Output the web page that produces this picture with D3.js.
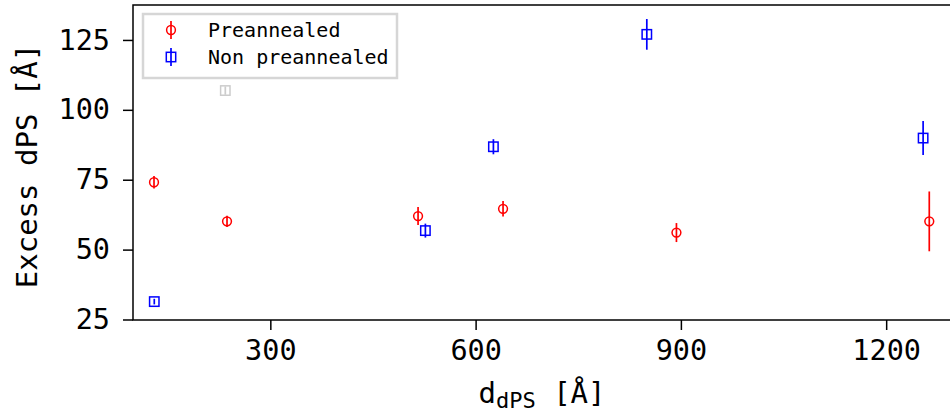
<!DOCTYPE html>
<html>
<head>
<meta charset="utf-8">
<title>Excess dPS</title>
<script src="https://d3js.org/d3.v7.min.js"></script>
<style>
  body { margin: 0; background: #fff; }
  svg text { font-family: "DejaVu Sans Mono", monospace; fill: #000; }
</style>
</head>
<body>
<div id="chart"></div>
<script>
// preannealed samples
var preX   = [130, 236.7, 515.9, 640.1, 893.5, 1263];
var preY   = [74.1, 60.1, 62.0, 64.6, 56.1, 60.1];
var preErr = [2.2, 2.0, 3.2, 2.8, 3.4, 10.7];

// non preannealed samples
var nonX   = [130.4, 526.6, 626, 850.2, 1254];
var nonY   = [31.4, 56.8, 86.8, 127, 89.9];
var nonErr = [1.0, 2.5, 2.7, 5.5, 6.1];

// faint grey point
var greyX = [234.2], greyY = [106.9], greyErr = [1.5];

var xTicks = [300, 600, 900, 1200];
var yTicks = [25, 50, 75, 100, 125];

var width = 950, height = 414;
var svg = d3.select("#chart").append("svg")
    .attr("width", width).attr("height", height);

var x = d3.scaleLinear().domain([99.3, 1306]).range([133, 958.7]);
var y = d3.scaleLinear().domain([24.82, 137.5]).range([320, 5]);

// frame
svg.append("rect")
    .attr("x", x.range()[0]).attr("y", y.range()[1])
    .attr("width", x.range()[1] - x.range()[0])
    .attr("height", y.range()[0] - y.range()[1])
    .attr("fill", "none").attr("stroke", "#000").attr("stroke-width", 1.5);

var xAxis = svg.append("g")
    .attr("transform", "translate(0," + y.range()[0] + ")")
    .call(d3.axisBottom(x).tickValues(xTicks).tickFormat(d3.format("d"))
      .tickSize(10).tickPadding(10));
var yAxis = svg.append("g")
    .attr("transform", "translate(" + x.range()[0] + ",0)")
    .call(d3.axisLeft(y).tickValues(yTicks).tickSize(10).tickPadding(13));

[xAxis, yAxis].forEach(function(a) {
  a.select(".domain").remove();
  a.selectAll(".tick line").attr("stroke", "#000").attr("stroke-width", 1.5);
  a.selectAll(".tick text").style("font-size", "28.5px")
      .style("font-family", "DejaVu Sans Mono");
});

// labels
svg.append("text")
    .attr("transform", "translate(37,166) rotate(-90)")
    .attr("text-anchor", "middle")
    .style("font-size", "29px")
    .text("Excess dPS [Å]");

var xl = svg.append("text")
    .attr("x", 542).attr("y", 403)
    .attr("text-anchor", "middle")
    .style("font-size", "29px")
    .style("white-space", "pre")
    .attr("xml:space", "preserve");
xl.append("tspan").text("d");
xl.append("tspan").attr("dy", 5).style("font-size", "22px").text("dPS");
xl.append("tspan").attr("dy", -5).text(" [Å]");

function drawSeries(xs, ys, es, color, shape) {
  var g = svg.append("g");
  xs.forEach(function(v, i) {
    var cx = x(v), cy = y(ys[i]);
    g.append("line")
        .attr("x1", cx).attr("x2", cx)
        .attr("y1", y(ys[i] - es[i])).attr("y2", y(ys[i] + es[i]))
        .attr("stroke", color).attr("stroke-width", 1.7);
    marker(g, cx, cy, color, shape);
  });
}

function marker(g, cx, cy, color, shape) {
  if (shape == "circle") {
    g.append("circle").attr("cx", cx).attr("cy", cy).attr("r", 4.4)
        .attr("fill", "none").attr("stroke", color).attr("stroke-width", 1.5);
  } else {
    g.append("rect").attr("x", cx - 4.7).attr("y", cy - 4.7)
        .attr("width", 9.4).attr("height", 9.4)
        .attr("fill", "none").attr("stroke", color).attr("stroke-width", 1.5);
  }
}

drawSeries(greyX, greyY, greyErr, "#cccccc", "square");
drawSeries(preX, preY, preErr, "#ff0000", "circle");
drawSeries(nonX, nonY, nonErr, "#0000ff", "square");

// legend
var leg = svg.append("g");
leg.append("rect")
    .attr("x", 143).attr("y", 14).attr("width", 254).attr("height", 64)
    .attr("fill", "#fff").attr("stroke", "#d6d6d6").attr("stroke-width", 2.5);
var items = [["Preannealed", "#ff0000", "circle", 30], ["Non preannealed", "#0000ff", "square", 57]];
items.forEach(function(it) {
  leg.append("line").attr("x1", 171).attr("x2", 171)
      .attr("y1", it[3] - 9).attr("y2", it[3] + 9)
      .attr("stroke", it[1]).attr("stroke-width", 1.7);
  marker(leg, 171, it[3], it[1], it[2]);
  leg.append("text").attr("x", 208).attr("y", it[3] + 7)
      .style("font-size", "20px").text(it[0]);
});
</script>
</body>
</html>
